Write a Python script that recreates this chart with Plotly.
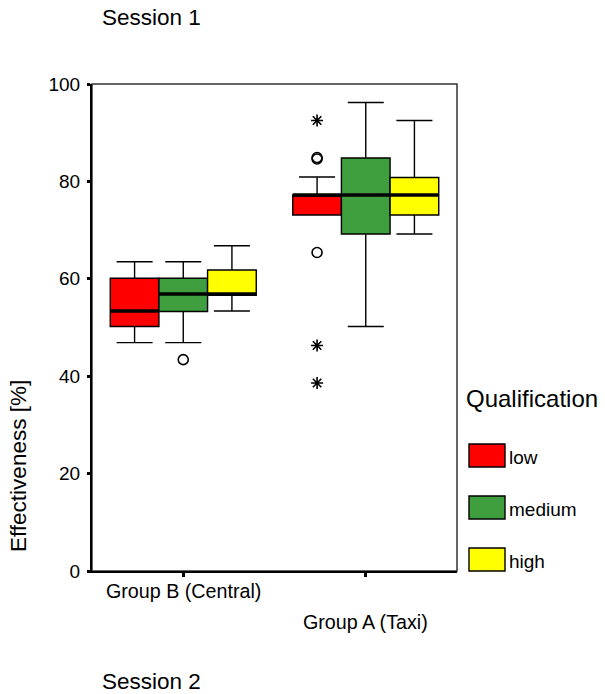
import plotly.graph_objects as go

# ---------------- data ----------------
groups = ["Group B (Central)", "Group A (Taxi)"]
group_pos = [0, 1]
qualifications = ["low", "medium", "high"]
colors = ["#FF0000", "#3F9F3F", "#FFFF00"]

# rows = qualification (low, medium, high); cols = group (B, A)
whisker_low = [[46.9, 73.1], [46.9, 50.2], [53.4, 69.2]]
q1 = [[50.2, 73.1], [53.3, 69.2], [56.6, 73.1]]
median = [[53.4, 77.2], [56.9, 77.2], [56.9, 77.2]]
q3 = [[60.1, 77.2], [60.1, 84.8], [61.8, 80.8]]
whisker_high = [[63.5, 80.9], [63.5, 96.2], [66.8, 92.5]]

# outliers (circles) and extremes (asterisks)
out_qual = [1, 0, 0, 0]
out_group = [0, 1, 1, 1]
out_value = [43.4, 84.6, 84.9, 65.4]
ext_qual = [0, 0, 0]
ext_group = [1, 1, 1]
ext_value = [92.5, 46.3, 38.6]

y_ticks = [0, 20, 40, 60, 80, 100]

# ---------------- layout helpers ----------------
W, H = 605, 694
PL, PR, PT, PB = 92, 457, 84, 571  # plot area in page pixels
FONT = "Liberation Sans, Arial, Helvetica, sans-serif"
BOXW = 0.8 / 3


def pxx(x):
    return (x - PL) / (PR - PL)


def pxy(y):
    return (PB - y) / (PB - PT)


def xpos(qi, gi):
    return group_pos[gi] + (qi - 1) * BOXW


fig = go.Figure()

for qi, q in enumerate(qualifications):
    for gi in range(len(groups)):
        p = xpos(qi, gi)
        fig.add_trace(go.Box(
            x=[p], q1=[q1[qi][gi]], median=[median[qi][gi]], q3=[q3[qi][gi]],
            lowerfence=[whisker_low[qi][gi]], upperfence=[whisker_high[qi][gi]],
            width=BOXW, whiskerwidth=0.74, fillcolor=colors[qi],
            line=dict(color="black", width=1.4), boxpoints=False,
            name=q, showlegend=False, hoverinfo="skip"))
        fig.add_trace(go.Scatter(
            x=[p - BOXW / 2, p + BOXW / 2], y=[median[qi][gi]] * 2,
            mode="lines", line=dict(color="black", width=3.5),
            showlegend=False, hoverinfo="skip"))

fig.add_trace(go.Scatter(
    x=[xpos(q, g) for q, g in zip(out_qual, out_group)], y=out_value,
    mode="markers",
    marker=dict(symbol="circle-open", size=10, color="black", line=dict(width=1.6)),
    showlegend=False, hoverinfo="skip"))
fig.add_trace(go.Scatter(
    x=[xpos(q, g) for q, g in zip(ext_qual, ext_group)], y=ext_value,
    mode="markers",
    marker=dict(symbol="asterisk-open", size=10, color="black", line=dict(width=1.6)),
    showlegend=False, hoverinfo="skip"))

annotations = []
shapes = [dict(type="rect", xref="paper", yref="paper", x0=0, x1=1, y0=0, y1=1,
               line=dict(color="#333333", width=1.5), layer="below")]

# category labels (staggered)
label_y = [591, 622]
for gi, g in enumerate(groups):
    annotations.append(dict(text=g, x=group_pos[gi], xref="x", y=pxy(label_y[gi]), yref="paper",
                            xanchor="center", yanchor="middle", showarrow=False,
                            font=dict(family=FONT, size=19.7, color="black")))

# axis title
annotations.append(dict(text="Effectiveness [%]", x=pxx(18), y=pxy(466), xref="paper", yref="paper",
                        textangle=-90, xanchor="center", yanchor="middle", showarrow=False,
                        font=dict(family=FONT, size=22.5, color="black")))

# session titles
annotations.append(dict(text="Session 1", x=pxx(99.5), y=pxy(17.5), xref="paper", yref="paper",
                        xanchor="left", yanchor="middle", showarrow=False,
                        font=dict(family=FONT, size=22.5, color="black")))
annotations.append(dict(text="Session 2", x=pxx(99.5), y=pxy(681), xref="paper", yref="paper",
                        xanchor="left", yanchor="middle", showarrow=False,
                        font=dict(family=FONT, size=22.5, color="black")))

# custom legend
annotations.append(dict(text="Qualification", x=pxx(464), y=pxy(398), xref="paper", yref="paper",
                        xanchor="left", yanchor="middle", showarrow=False,
                        font=dict(family=FONT, size=24, color="black")))
for qi, q in enumerate(qualifications):
    top = 444 + 52 * qi
    shapes.append(dict(type="rect", xref="paper", yref="paper",
                       x0=pxx(469), x1=pxx(505), y0=pxy(top + 23), y1=pxy(top),
                       fillcolor=colors[qi], line=dict(color="black", width=1.4)))
    annotations.append(dict(text=q, x=pxx(506.5), y=pxy(top + 13), xref="paper", yref="paper",
                            xanchor="left", yanchor="middle", showarrow=False,
                            font=dict(family=FONT, size=19, color="black")))

fig.update_layout(
    width=W, height=H,
    margin=dict(l=PL, r=W - PR, t=PT, b=H - PB, pad=0),
    paper_bgcolor="white", plot_bgcolor="white",
    showlegend=False,
    font=dict(family=FONT, size=19, color="black"),
    xaxis=dict(range=[-0.5, 1.5], tickvals=group_pos, showticklabels=False,
               ticks="outside", ticklen=4, tickwidth=3, tickcolor="black",
               showline=True, linecolor="black", linewidth=2,
               showgrid=False, zeroline=False, fixedrange=True),
    yaxis=dict(range=[0, 100], tickvals=y_ticks, ticks="outside", ticklen=3, tickwidth=3,
               tickcolor="black", showline=True, linecolor="black", linewidth=2,
               tickfont=dict(family=FONT, size=19, color="black"),
               showgrid=False, zeroline=False, fixedrange=True, ticklabelstandoff=3),
    annotations=annotations, shapes=shapes,
)

fig.write_html("out.html", config={"displayModeBar": False},
               post_script="document.body.style.margin='0';")
